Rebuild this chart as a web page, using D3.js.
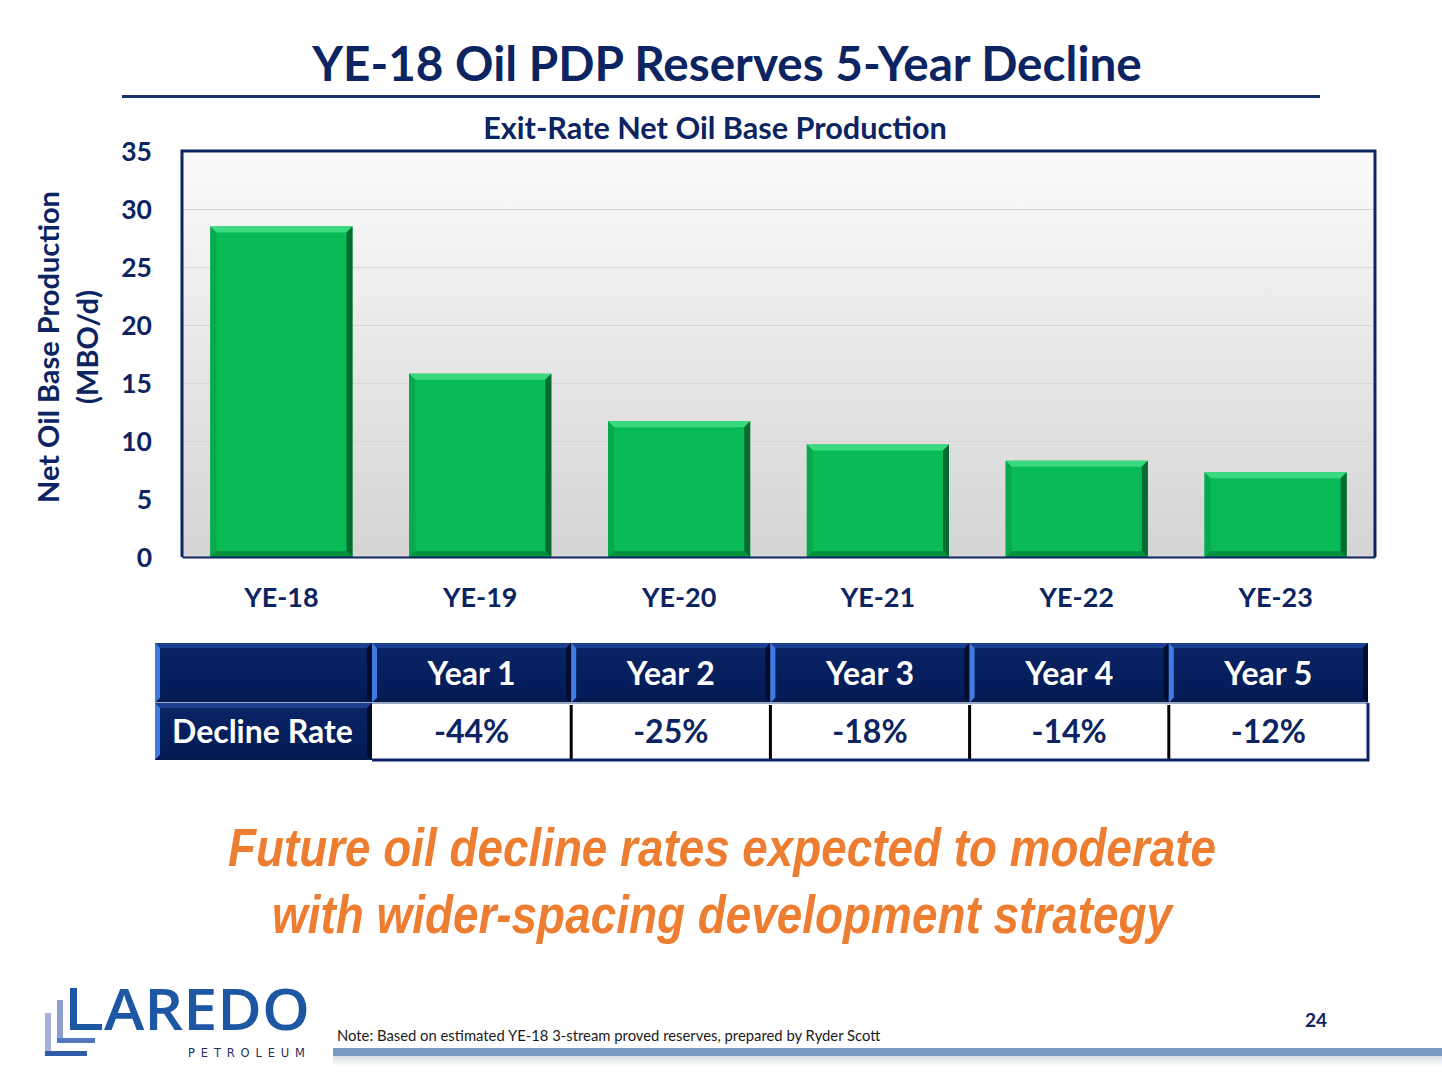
<!DOCTYPE html>
<html>
<head>
<meta charset="utf-8">
<script src="https://cdn.jsdelivr.net/npm/d3@7"></script>
<style>
html,body{margin:0;padding:0;background:#fff;}
svg{display:block;}
</style>
</head>
<body>
<svg id="chart" width="1442" height="1081"></svg>
<script>
// ---- data ----
const categories = ["YE-18","YE-19","YE-20","YE-21","YE-22","YE-23"];
const production = [28.5, 15.8, 11.7, 9.7, 8.3, 7.3];
const yTicks = [0,5,10,15,20,25,30,35];
const tableHeaders = ["Year 1","Year 2","Year 3","Year 4","Year 5"];
const declineRates = ["-44%","-25%","-18%","-14%","-12%"];
const rowLabel = "Decline Rate";
const titleText = "YE-18 Oil PDP Reserves 5-Year Decline";
const subtitleText = "Exit-Rate Net Oil Base Production";
const yTitleLines = ["Net Oil Base Production","(MBO/d)"];
const messageLines = ["Future oil decline rates expected to moderate","with wider-spacing development strategy"];
const noteText = "Note: Based on estimated YE-18 3-stream proved reserves, prepared by Ryder Scott";
const pageNumber = "24";

const NAVY = "#0c2461";
const FONT = "Lato, 'Open Sans', sans-serif";
const svg = d3.select("#chart");
const defs = svg.append("defs");

function fit(sel, w){
  const cur = sel.node().getComputedTextLength();
  const fs = parseFloat(sel.attr("font-size"));
  sel.attr("font-size", fs * w / cur);
  return sel;
}

// ---- title ----
fit(svg.append("text").attr("x",727).attr("y",81).attr("text-anchor","middle")
  .attr("font-family",FONT).attr("font-weight",700).attr("font-size",46).attr("fill",NAVY)
  .text(titleText), 830);
svg.append("line").attr("x1",122).attr("x2",1320).attr("y1",96.5).attr("y2",96.5)
  .attr("stroke","#163068").attr("stroke-width",3);

fit(svg.append("text").attr("x",715).attr("y",139).attr("text-anchor","middle")
  .attr("font-family",FONT).attr("font-weight",700).attr("font-size",26).attr("fill",NAVY)
  .text(subtitleText), 464);

// ---- chart ----
const plot = {x0:182, x1:1375, y0:151, y1:557};
const x = d3.scaleBand().domain(categories).range([plot.x0, plot.x1]).paddingInner(0.285).paddingOuter(0.1425);
const y = d3.scaleLinear().domain([0,35]).range([plot.y1, plot.y0]);

const bg = defs.append("linearGradient").attr("id","bg").attr("x1",0).attr("x2",0).attr("y1",0).attr("y2",1);
bg.append("stop").attr("offset","0%").attr("stop-color","#fbfbfb");
bg.append("stop").attr("offset","100%").attr("stop-color","#d4d4d4");
svg.append("rect").attr("x",plot.x0).attr("y",plot.y0).attr("width",plot.x1-plot.x0).attr("height",plot.y1-plot.y0)
  .attr("fill","url(#bg)");

// grid
svg.append("g").selectAll("line").data(yTicks.filter(d=>d>0 && d<35)).join("line")
  .attr("x1",plot.x0).attr("x2",plot.x1).attr("y1",d=>Math.round(y(d))+0.5).attr("y2",d=>Math.round(y(d))+0.5)
  .attr("stroke","#d6d6d6").attr("stroke-width",1);

// bars with bevel
const bevel = 6;
const gBars = svg.append("g");
categories.forEach((c,i)=>{
  const bx = x(c), bw = x.bandwidth(), by = y(production[i]), bh = plot.y1 - by;
  const g = gBars.append("g");
  g.append("rect").attr("x",bx).attr("y",by).attr("width",bw).attr("height",bh).attr("fill","#08bb56");
  const x0=bx,x1=bx+bw,y0=by,y1=by+bh,b=bevel;
  g.append("polygon").attr("points",[[x0,y0],[x1,y0],[x1-b,y0+b],[x0+b,y0+b]].join(" ")).attr("fill","#3bd97f");
  g.append("polygon").attr("points",[[x0,y0],[x0+b,y0+b],[x0+b,y1-b],[x0,y1]].join(" ")).attr("fill","#07a94c");
  g.append("polygon").attr("points",[[x1,y0],[x1,y1],[x1-b,y1-b],[x1-b,y0+b]].join(" ")).attr("fill","#056b30");
  g.append("polygon").attr("points",[[x0,y1],[x1,y1],[x1-b,y1-b],[x0+b,y1-b]].join(" ")).attr("fill","#06913f");
});

// frame
svg.append("path").attr("d",`M${plot.x0},${plot.y1}V${plot.y0}H${plot.x1}V${plot.y1}`)
  .attr("fill","none").attr("stroke","#0c2461").attr("stroke-width",3);

// axes
const yAxis = svg.append("g").attr("transform",`translate(${plot.x0},0)`)
  .call(d3.axisLeft(y).tickValues(yTicks).tickSize(0).tickPadding(30));
yAxis.select(".domain").remove();
yAxis.selectAll("text").attr("font-family",FONT).attr("font-weight",700).attr("font-size",26.5).attr("fill",NAVY).attr("dy","0.34em");

const xAxis = svg.append("g").attr("transform",`translate(0,${plot.y1})`)
  .call(d3.axisBottom(x).tickSize(0).tickPadding(31));
xAxis.select(".domain").attr("stroke","#0c2461").attr("stroke-width",2);
xAxis.selectAll("text").attr("font-family",FONT).attr("font-weight",700).attr("font-size",27).attr("fill",NAVY);

// y title
const yt = svg.append("text").attr("transform","translate(0,347) rotate(-90)")
  .attr("text-anchor","middle").attr("font-family",FONT).attr("font-weight",700).attr("font-size",25).attr("fill",NAVY);
const yt1 = yt.append("tspan").attr("x",0).attr("y",59).text(yTitleLines[0]);
yt.append("tspan").attr("x",0).attr("y",98).text(yTitleLines[1]);
{
  const cur = yt1.node().getComputedTextLength();
  yt.attr("font-size", 25 * 312 / cur);
}

// ---- table ----
const tbl = {x0:155, x1:1368, firstW:217, h0:643, h1:703, r1:760};
const colX = d3.scaleBand().domain(tableHeaders).range([tbl.x0+tbl.firstW, tbl.x1]);
const hg = defs.append("linearGradient").attr("id","hdr").attr("x1",0).attr("x2",0).attr("y1",0).attr("y2",1);
hg.append("stop").attr("offset","0%").attr("stop-color","#0a2466");
hg.append("stop").attr("offset","100%").attr("stop-color","#031a55");

function navyCell(x0,y0,w,h){
  const g = svg.append("g");
  g.append("rect").attr("x",x0).attr("y",y0).attr("width",w).attr("height",h).attr("fill","url(#hdr)");
  const b=5, x1=x0+w, y1=y0+h;
  g.append("polygon").attr("points",[[x0,y0],[x1,y0],[x1-b,y0+b],[x0+b,y0+b]].join(" ")).attr("fill","#1d3f8f");
  g.append("polygon").attr("points",[[x0,y0],[x0+b,y0+b],[x0+b,y1-b],[x0,y1]].join(" ")).attr("fill","#3f7be0");
  g.append("polygon").attr("points",[[x1,y0],[x1,y1],[x1-b,y1-b],[x1-b,y0+b]].join(" ")).attr("fill","#020c2c");
  g.append("polygon").attr("points",[[x0,y1],[x1,y1],[x1-b,y1-b],[x0+b,y1-b]].join(" ")).attr("fill","#071a4d");
}
const TFS = 32;
navyCell(tbl.x0, tbl.h0, tbl.firstW, tbl.h1-tbl.h0);
tableHeaders.forEach(h=>navyCell(colX(h), tbl.h0, colX.bandwidth(), tbl.h1-tbl.h0));
svg.append("line").attr("x1",tbl.x0).attr("x2",tbl.x1).attr("y1",tbl.h1).attr("y2",tbl.h1).attr("stroke","#9aa8c4").attr("stroke-width",2);
svg.append("g").selectAll("text").data(tableHeaders).join("text")
  .attr("x",d=>colX(d)+colX.bandwidth()/2).attr("y",(tbl.h0+tbl.h1)/2).attr("dy","0.36em")
  .attr("text-anchor","middle").attr("font-family",FONT).attr("font-weight",700).attr("font-size",TFS).attr("fill","#fff")
  .text(d=>d);
navyCell(tbl.x0, tbl.h1, tbl.firstW, tbl.r1-tbl.h1);
svg.append("text").attr("x",tbl.x0+17).attr("y",(tbl.h1+tbl.r1)/2).attr("dy","0.36em")
  .attr("font-family",FONT).attr("font-weight",700).attr("font-size",TFS).attr("fill","#fff").text(rowLabel);
svg.append("rect").attr("x",tbl.x0+tbl.firstW).attr("y",tbl.h1+1).attr("width",tbl.x1-tbl.x0-tbl.firstW).attr("height",tbl.r1-tbl.h1-1).attr("fill","#fff");
svg.append("g").selectAll("line").data(tableHeaders.slice(1)).join("line")
  .attr("x1",d=>colX(d)).attr("x2",d=>colX(d)).attr("y1",tbl.h1+2).attr("y2",tbl.r1)
  .attr("stroke","#000").attr("stroke-width",3);
svg.append("path").attr("d",`M${tbl.x0+tbl.firstW},${tbl.r1}H${tbl.x1}V${tbl.h1}`)
  .attr("fill","none").attr("stroke","#0c2461").attr("stroke-width",3);
svg.append("g").selectAll("text").data(declineRates).join("text")
  .attr("x",(d,i)=>colX(tableHeaders[i])+colX.bandwidth()/2).attr("y",(tbl.h1+tbl.r1)/2).attr("dy","0.36em")
  .attr("text-anchor","middle").attr("font-family",FONT).attr("font-weight",700).attr("font-size",TFS).attr("fill",NAVY)
  .text(d=>d);

// ---- message ----
const NARROW = "'Liberation Sans Narrow', 'Arial Narrow', 'Liberation Sans', Arial, sans-serif";
const msgWidths = [988, 900];
svg.append("g").selectAll("text").data(messageLines).join("text")
  .attr("x",722).attr("y",(d,i)=>866 + i*67).attr("text-anchor","middle")
  .attr("font-family",NARROW).attr("font-style","italic").attr("font-weight",700).attr("font-size",53).attr("fill","#ed7d31")
  .attr("textLength",(d,i)=>msgWidths[i]).attr("lengthAdjust","spacingAndGlyphs")
  .text(d=>d);

// ---- footer ----
const sh = defs.append("linearGradient").attr("id","sh").attr("x1",0).attr("x2",0).attr("y1",0).attr("y2",1);
sh.append("stop").attr("offset","0%").attr("stop-color","#d8dde6");
sh.append("stop").attr("offset","100%").attr("stop-color","#ffffff");
svg.append("rect").attr("x",333).attr("y",1056).attr("width",1109).attr("height",10).attr("fill","url(#sh)");
svg.append("rect").attr("x",333).attr("y",1048).attr("width",1109).attr("height",8).attr("fill","#789bc3");
fit(svg.append("text").attr("x",337).attr("y",1041).attr("font-family",FONT).attr("font-size",13).attr("fill","#1a1a1a")
  .text(noteText), 544);
svg.append("text").attr("x",1316).attr("y",1027).attr("text-anchor","middle").attr("font-family",FONT)
  .attr("font-weight",700).attr("font-size",19).attr("fill",NAVY).text(pageNumber);

// logo
const logo = svg.append("g");
logo.append("rect").attr("x",45).attr("y",1013).attr("width",6).attr("height",43).attr("fill","#a7b2da");
logo.append("rect").attr("x",45).attr("y",1051).attr("width",42).attr("height",5).attr("fill","#2f5ca8");
logo.append("rect").attr("x",57).attr("y",1000).attr("width",6).attr("height",43).attr("fill","#8d9ed2");
logo.append("rect").attr("x",57).attr("y",1038).attr("width",38).attr("height",5).attr("fill","#5478bd");
logo.append("rect").attr("x",70).attr("y",988).attr("width",7).attr("height",42).attr("fill","#1d57a3");
logo.append("rect").attr("x",70).attr("y",1024).attr("width",32).attr("height",6).attr("fill","#1d57a3");
logo.append("text").attr("x",104).attr("y",1030).attr("font-family","'Open Sans', sans-serif")
  .attr("font-weight",600).attr("font-size",57).attr("fill","#1d57a3")
  .attr("textLength",206).attr("lengthAdjust","spacingAndGlyphs").text("AREDO");
logo.append("text").attr("x",188).attr("y",1057).attr("font-family","'DejaVu Sans', sans-serif")
  .attr("font-size",11.5).attr("fill","#1f2f5c")
  .attr("textLength",117).attr("lengthAdjust","spacing").text("PETROLEUM");
</script>
</body>
</html>
